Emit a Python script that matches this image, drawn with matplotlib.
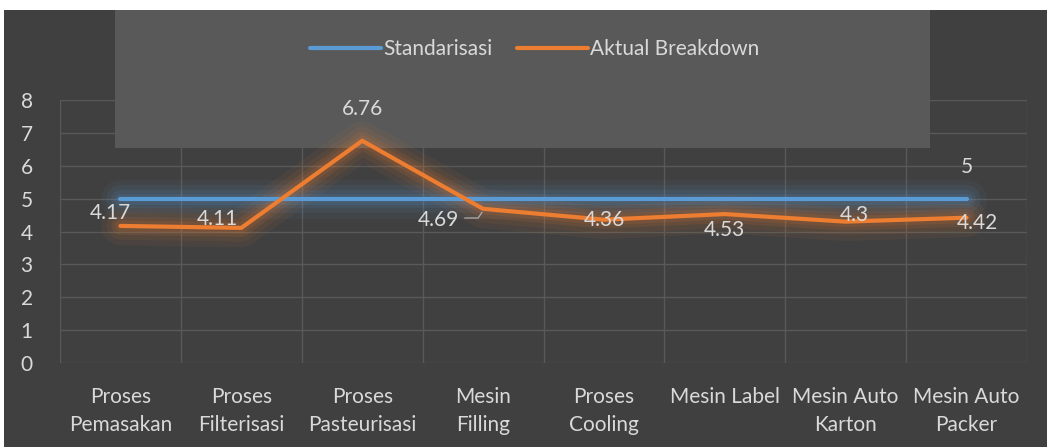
import matplotlib.pyplot as plt
from matplotlib.patches import Rectangle

categories = ['Proses\nPemasakan', 'Proses\nFilterisasi', 'Proses\nPasteurisasi', 'Mesin\nFilling',
              'Proses\nCooling', 'Mesin Label', 'Mesin Auto\nKarton', 'Mesin Auto\nPacker']
standar = [5, 5, 5, 5, 5, 5, 5, 5]
aktual = [4.17, 4.11, 6.76, 4.69, 4.36, 4.53, 4.3, 4.42]

bg = '#404040'
txt = '#d9d9d9'
blue = '#5b9bd5'
orange = '#ed7d31'

plt.rcParams['font.family'] = ['Lato', 'DejaVu Sans']

fig = plt.figure(figsize=(10.47, 4.47), dpi=100)
fig.patch.set_facecolor('white')
fig.patches.append(Rectangle((4 / 1047, 0), 1, 1 - 10 / 447, transform=fig.transFigure,
                             facecolor=bg, edgecolor='none', zorder=-3))
# faded watermark box
fig.patches.append(Rectangle((115 / 1047, 1 - 148 / 447), 815 / 1047, 138 / 447,
                             transform=fig.transFigure, facecolor='#595959',
                             edgecolor='none', zorder=-2))

ax = fig.add_axes([60 / 1047, 1 - 363 / 447, 967 / 1047, 263 / 447])
ax.set_facecolor('none')
x = range(len(categories))

# soft glow under the lines
for w, a in [(28, 0.06), (20, 0.08), (13, 0.1), (8, 0.12)]:
    ax.plot(x, standar, color=blue, lw=w, alpha=a, solid_capstyle='round', zorder=2)
    ax.plot(x, aktual, color=orange, lw=w, alpha=a, solid_capstyle='round', zorder=2)
ax.plot(x, standar, color=blue, lw=3, solid_capstyle='round', label='Standarisasi', zorder=3)
ax.plot(x, aktual, color=orange, lw=3, solid_capstyle='round', label='Aktual Breakdown', zorder=4)

# data labels
offs = [(-0.08, 0.39), (-0.2, 0.27), (0, 0.96), (-0.37, -0.34), (0, 0.0), (0, -0.49), (0.07, 0.2), (0.09, -0.16)]
for i, v in enumerate(aktual):
    dx, dy = offs[i]
    ax.text(i + dx, v + dy, f'{v:g}', color=txt, fontsize=15, ha='center', va='center', zorder=5)
ax.plot([2.85, 2.96, 2.99], [4.41, 4.41, 4.58], color='#a6a6a6', lw=1, zorder=5)
ax.text(7, standar[-1] + 0.96, f'{standar[-1]:g}', color=txt, fontsize=15, ha='center', va='center')

ax.set_xlim(-0.5, 7.5)
ax.set_ylim(0, 8)
ax.set_yticks(range(9))
ax.set_xticks([i + 0.5 for i in range(-1, 8)], minor=False)
ax.set_xticklabels([])
ax.set_xticks(list(x), minor=True)
ax.set_xticklabels(categories, minor=True, color=txt, fontsize=15, linespacing=1.5)
ax.tick_params(axis='x', which='both', length=0, pad=17)
ax.tick_params(axis='y', length=0, labelcolor=txt, labelsize=15, pad=24)
for lab in ax.get_yticklabels():
    lab.set_ha('center')
ax.grid(True, which='major', color='#595959', lw=1)
for s in ax.spines.values():
    s.set_visible(False)

fig.legend(loc='center', bbox_to_anchor=(535 / 1047, 1 - 49 / 447), ncol=2, frameon=False,
           fontsize=15, labelcolor=txt, handlelength=3.4, columnspacing=1.2, handletextpad=0.1)

fig.savefig('out.png', facecolor=fig.get_facecolor())
